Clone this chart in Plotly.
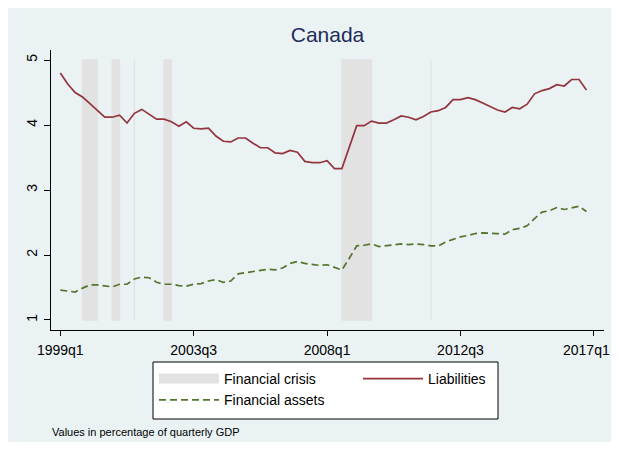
import plotly.graph_objects as go

# ---------------- data ----------------
start_year = 1999
n_quarters = 72  # 1999q1 .. 2016q4
quarter_labels = [f"{start_year + i // 4}q{i % 4 + 1}" for i in range(n_quarters)]

liabilities = [
    4.80, 4.63, 4.50, 4.43, 4.33, 4.22, 4.12, 4.12, 4.15, 4.03,
    4.18, 4.24, 4.16, 4.09, 4.09, 4.05, 3.98, 4.05, 3.95, 3.94,
    3.95, 3.83, 3.75, 3.74, 3.80, 3.80, 3.72, 3.65, 3.65, 3.57,
    3.56, 3.61, 3.58, 3.44, 3.42, 3.42, 3.45, 3.33, 3.33, 3.65,
    3.99, 3.99, 4.06, 4.03, 4.03, 4.08, 4.14, 4.12, 4.08, 4.13,
    4.20, 4.22, 4.27, 4.39, 4.39, 4.42, 4.39, 4.34, 4.29, 4.23,
    4.20, 4.27, 4.25, 4.32, 4.48, 4.53, 4.56, 4.62, 4.60, 4.70,
    4.70, 4.54,
]

financial_assets = [
    1.46, 1.44, 1.43, 1.49, 1.54, 1.54, 1.52, 1.51, 1.55, 1.55,
    1.63, 1.66, 1.65, 1.58, 1.55, 1.55, 1.53, 1.52, 1.55, 1.56,
    1.60, 1.62, 1.58, 1.60, 1.71, 1.73, 1.75, 1.76, 1.78, 1.77,
    1.80, 1.87, 1.90, 1.87, 1.85, 1.84, 1.85, 1.81, 1.77, 1.95,
    2.14, 2.15, 2.17, 2.13, 2.14, 2.15, 2.17, 2.16, 2.17, 2.16,
    2.14, 2.14, 2.20, 2.24, 2.28, 2.30, 2.33, 2.34, 2.34, 2.33,
    2.32, 2.39, 2.41, 2.45, 2.56, 2.66, 2.68, 2.73, 2.70, 2.73,
    2.75, 2.67,
]

crisis_start = ["1999q4", "2000q4", "2001q3", "2002q3", "2008q3", "2011q3"]
crisis_end = ["2000q2", "2001q1", "2001q3", "2002q4", "2009q3", "2011q3"]
crisis_low, crisis_high = 1, 5

tick_labels = ["1999q1", "2003q3", "2008q1", "2012q3", "2017q1"]
y_ticks = [1, 2, 3, 4, 5]


def q_index(label):
    y, q = label.split("q")
    return (int(y) - start_year) * 4 + int(q) - 1


x_idx = [q_index(l) for l in quarter_labels]
tick_vals = [q_index(l) for l in tick_labels]

cx, cy = [], []
for s, e in zip(crisis_start, crisis_end):
    a, b = q_index(s), q_index(e)
    cx += [a, a, b, b, a, None]
    cy += [crisis_low, crisis_high, crisis_high, crisis_low, crisis_low, None]

# ---------------- figure ----------------
FONT = "Liberation Sans, Arial, sans-serif"
BG = "#eaf2f3"
GRAY = "#e2e2e2"
RED = "#93343f"
GREEN = "#55752f"

W, H = 611, 434          # page places the figure at an 8px body offset
PL, PR, PT, PB = 43, 15, 42, 112
PW, PH = W - PL - PR, H - PT - PB


def px_x(page_x):  # page pixel -> paper x
    return (page_x - 8 - PL) / PW


def px_y(page_y):  # page pixel -> paper y
    return (H - PB - (page_y - 8)) / PH


fig = go.Figure()
fig.add_trace(go.Scatter(
    x=cx, y=cy, mode="lines", fill="toself", fillcolor=GRAY,
    line=dict(color=GRAY, width=1.3), name="Financial crisis",
    hoverinfo="skip", showlegend=False,
))
# legend-only entry for the crisis shading (wide swatch like the original)
fig.add_trace(go.Scatter(
    x=[None], y=[None], mode="lines", name="Financial crisis",
    line=dict(color=GRAY, width=16), legend="legend", hoverinfo="skip",
))
fig.add_trace(go.Scatter(
    x=x_idx, y=liabilities, mode="lines", name="Liabilities",
    line=dict(color=RED, width=1.7), text=quarter_labels, legend="legend2",
))
fig.add_trace(go.Scatter(
    x=x_idx, y=financial_assets, mode="lines", name="Financial assets",
    line=dict(color=GREEN, width=1.7, dash="7px,4px"), text=quarter_labels,
    legend="legend",
))

# light-bluish graph region (leaves a thin white strip at the right)
fig.add_shape(type="rect", xref="paper", yref="paper",
              x0=px_x(0), x1=px_x(612), y0=px_y(450), y1=px_y(0),
              fillcolor=BG, line=dict(width=0), layer="below")
# light reference lines at the outer y labels
for yv in (y_ticks[0], y_ticks[-1]):
    fig.add_shape(type="line", xref="paper", yref="y", x0=0, x1=1, y0=yv, y1=yv,
                  line=dict(color=BG, width=1.5), layer="below")
# legend frame
fig.add_shape(type="rect", xref="paper", yref="paper",
              x0=px_x(153), x1=px_x(498), y0=px_y(419), y1=px_y(362),
              fillcolor="white", line=dict(color="black", width=1), layer="above")

leg_common = dict(
    bgcolor="rgba(0,0,0,0)", borderwidth=0,
    font=dict(family=FONT, size=14, color="black"),
    itemwidth=60, orientation="v", yanchor="top", xanchor="left",
)

# last tick label is drawn as an annotation nudged left so it is not clipped
axis_ticktext = tick_labels[:-1] + [""]

fig.update_layout(
    width=W, height=H,
    margin=dict(l=PL, r=PR, t=PT, b=PB, autoexpand=False),
    paper_bgcolor="white", plot_bgcolor="white",
    font=dict(family=FONT, size=14, color="black"),
    title=dict(text="Canada", x=0.5, xref="paper", y=1 - (35 - 8) / H,
               yanchor="middle",
               font=dict(family=FONT, size=21, color="#1e2d5a")),
    showlegend=True,
    legend=dict(x=px_x(154), y=px_y(363), traceorder="normal", **leg_common),
    legend2=dict(x=px_x(358), y=px_y(363), **leg_common),
    xaxis=dict(
        range=[-1.255, 73.37], tickvals=tick_vals, ticktext=axis_ticktext,
        showgrid=False, zeroline=False, showline=True, linecolor="black",
        linewidth=1, ticks="outside", ticklen=5, tickcolor="black",
        tickfont=dict(family=FONT, size=14), ticklabelstandoff=2,
    ),
    yaxis=dict(
        range=[0.846, 5.154], tickvals=y_ticks, showgrid=False, zeroline=False,
        showline=True, linecolor="black", linewidth=1, ticks="outside",
        ticklen=6, tickcolor="black", tickangle=-90,
        tickfont=dict(family=FONT, size=14), ticklabelstandoff=1,
    ),
    annotations=[
        dict(
            text="Values in percentage of quarterly GDP", xref="paper", yref="paper",
            x=px_x(50), y=px_y(432), xanchor="left", yanchor="middle",
            showarrow=False, font=dict(family=FONT, size=11, color="black"),
        ),
        dict(
            text=tick_labels[-1], xref="x", yref="paper",
            x=tick_vals[-1], y=px_y(349.5), xanchor="center", yanchor="middle",
            xshift=-7, showarrow=False, font=dict(family=FONT, size=14, color="black"),
        ),
    ],
)

fig.write_html("out.html")
